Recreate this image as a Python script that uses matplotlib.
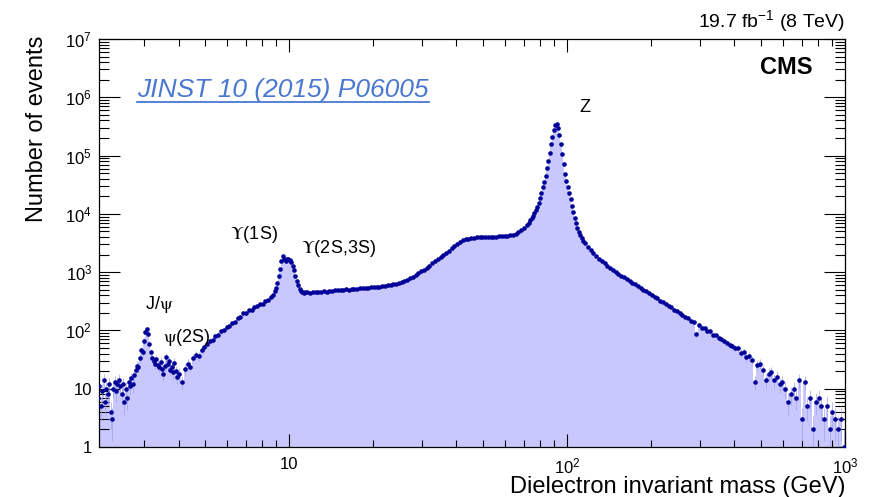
import numpy as np
import matplotlib
matplotlib.use('Agg')
import matplotlib.pyplot as plt
from matplotlib.ticker import FixedLocator, LogLocator, NullFormatter, FuncFormatter
from matplotlib.lines import Line2D

plt.rcParams['font.family'] = ['Liberation Sans', 'DejaVu Sans']
plt.rcParams['mathtext.fontset'] = 'custom'
plt.rcParams['mathtext.rm'] = 'Liberation Sans'
plt.rcParams['mathtext.it'] = 'Liberation Sans:italic'
plt.rcParams['mathtext.bf'] = 'Liberation Sans:bold'

# Bin edges in units of 0.005 in log10(m / GeV): (first, stop, stride).
# Finer binning across the J/psi, Upsilon and Z resonances.
edge_blocks = [(62, 120, 1), (120, 188, 2), (188, 212, 1),
               (212, 372, 2), (372, 412, 1), (412, 601, 2)]

# Event counts per bin, block by block
counts_jpsi = [7, 11, 5, 9, 14, 6, 10, 8, 12, 4,
               3, 10, 13, 9, 12, 14, 11, 8, 12, 6,
               10, 7, 13, 11, 15, 12, 17, 21, 25, 24,
               33, 46, 42, 65, 95, 105, 88, 58, 42, 33,
               30, 27, 32, 26, 24, 29, 22, 18, 25, 35,
               27, 30, 21, 24, 19, 28, 20, 16]
counts_rise = [18, 13, 22, 27, 24, 33, 38, 36, 47, 52,
               58, 66, 68, 79, 84, 97, 101, 114, 119, 134,
               142, 163, 168, 196, 200, 225, 226, 250, 258, 283,
               288, 315, 330, 370]
counts_upsilon = [410, 470, 540, 660, 850, 1150, 1550, 1900, 1700, 1580,
                  1660, 1700, 1600, 1480, 1300, 1080, 870, 700, 590, 520,
                  480, 460, 445, 450]
counts_plateau = [450, 445, 452, 448, 460, 455, 470, 465, 478, 480,
                  490, 485, 495, 500, 505, 498, 510, 515, 508, 525,
                  530, 535, 545, 550, 555, 560, 565, 575, 580, 590,
                  600, 615, 630, 650, 670, 700, 740, 790, 840, 900,
                  960, 1030, 1110, 1200, 1300, 1410, 1530, 1660, 1800, 1960,
                  2140, 2340, 2560, 2800, 3050, 3300, 3500, 3650, 3760, 3840,
                  3900, 3940, 3980, 4000, 4020, 4040, 4030, 4060, 4080, 4100,
                  4120, 4150, 4200, 4280, 4400, 4600, 4900, 5300, 5800, 6400]
counts_z = [6900, 7760, 8500, 9300, 10200, 11500, 12900, 15500, 18600, 22900,
            28800, 35500, 44700, 60300, 81300, 112000, 155000, 209000, 275000, 331000,
            347000, 295000, 229000, 158000, 105000, 70800, 49000, 36300, 28800, 22900,
            17800, 13800, 10700, 8510, 6920, 5750, 4900, 4370, 3800, 3390]
counts_tail = [3160, 2750, 2400, 2140, 1900, 1700, 1550, 1410, 1290, 1175,
               1100, 1000, 933, 870, 813, 758, 708, 660, 617, 575,
               537, 500, 468, 437, 410, 378, 356, 322, 308, 288,
               258, 248, 225, 216, 198, 186, 170, 163, 148, 140,
               88, 124, 112, 108, 97, 96, 84, 83, 74, 72,
               66, 62, 57, 54, 49, 50, 41, 42, 35, 36,
               31, 13, 26, 27, 21, 14, 18, 19, 14, 16,
               12, 13, 10, 6, 8, 10, 7, 14, 3, 13,
               5, 7, 2, 6, 7, 5, 3, 5, 2, 4,
               3, 2, 3, 1]

y_tick_labels = ['1', '10', '$10^{2}$', '$10^{3}$', '$10^{4}$', '$10^{5}$', '$10^{6}$', '$10^{7}$']
x_tick_labels = ['10', '$10^{2}$', '$10^{3}$']

edge_idx = np.concatenate([np.arange(a, b, s) for a, b, s in edge_blocks])
edges = 10.0 ** (edge_idx / 200.0)
counts = np.array(counts_jpsi + counts_rise + counts_upsilon
                  + counts_plateau + counts_z + counts_tail, dtype=float)
assert len(counts) == len(edges) - 1
centers = np.sqrt(edges[:-1] * edges[1:])

err = np.sqrt(counts)
err_lo = np.minimum(err, counts - 0.3)

fig = plt.figure(figsize=(8.75, 4.97), dpi=100)
ax = fig.add_axes([99 / 875, 50 / 497, 746 / 875, 408 / 497])

ax.stairs(counts, edges, baseline=0.1, fill=True, color='#c8c8ff', lw=0, zorder=1)
ax.errorbar(centers, counts, yerr=[err_lo, err], fmt='none',
            ecolor='#a0a0ec', elinewidth=0.5, zorder=2)
ax.plot(centers, counts, 'o', ms=3.3, color='#000099', mec='none', zorder=3)

ax.set_xscale('log')
ax.set_yscale('log')
ax.set_xlim(2.07, 1000)
ax.set_ylim(1, 1e7)

ax.xaxis.set_major_locator(FixedLocator([10, 100, 1000]))
ax.xaxis.set_major_formatter(FuncFormatter(lambda v, p: x_tick_labels[int(round(np.log10(v))) - 1]))
ax.xaxis.set_minor_locator(LogLocator(base=10, subs=np.arange(2, 10), numticks=20))
ax.xaxis.set_minor_formatter(NullFormatter())
ax.yaxis.set_major_locator(FixedLocator([10.0 ** k for k in range(8)]))
ax.yaxis.set_major_formatter(FuncFormatter(lambda v, p: y_tick_labels[int(round(np.log10(v)))]))
ax.yaxis.set_minor_locator(LogLocator(base=10, subs=np.arange(2, 10), numticks=20))
ax.yaxis.set_minor_formatter(NullFormatter())

ax.tick_params(which='both', direction='in', top=True, right=True, width=0.8,
               labelsize=12, colors='black')
ax.tick_params(axis='y', which='major', length=15, pad=5)
ax.tick_params(axis='y', which='minor', length=7.5)
ax.tick_params(axis='x', which='major', length=9.5, pad=7)
ax.tick_params(axis='x', which='minor', length=4.8)
for s in ax.spines.values():
    s.set_linewidth(0.9)

# Resonance labels
ax.text(116, 6.8e5, 'Z', fontsize=13, ha='center', va='center')
ax.text(3.40, 283, r'J/$\mathrm{\psi}$', fontsize=13, ha='center', va='center',
        math_fontfamily='stix')
ax.text(4.28, 75, r'$\mathrm{\psi}$(2S)', fontsize=13, ha='center', va='center',
        math_fontfamily='stix')
ax.text(7.45, 4420, r'$\Upsilon$(1S)', fontsize=13, ha='center', va='center',
        math_fontfamily='stix')
ax.text(15.1, 2590, r'$\Upsilon$(2S,3S)', fontsize=13, ha='center', va='center',
        math_fontfamily='stix')

ax.text(0.956, 0.931, 'CMS', transform=ax.transAxes, fontsize=17, fontweight='bold',
        ha='right', va='center')
ref = ax.text(0.051, 0.875, 'JINST 10 (2015) P06005', transform=ax.transAxes,
              fontsize=19, style='italic', color='#4a78d0', ha='left', va='center')

fig.text(845 / 875, 1 - 27 / 497, r'19.7 fb$^{-1}$ (8 TeV)', fontsize=14,
         ha='right', va='baseline')
fig.text(37 / 875, 1 - 36 / 497, 'Number of events', fontsize=17, rotation=90,
         ha='center', va='top')
fig.text(845 / 875, 1 - 487 / 497, 'Dielectron invariant mass (GeV)', fontsize=17,
         ha='right', va='center')

# Underline the reference text
fig.canvas.draw()
bb = ref.get_window_extent(fig.canvas.get_renderer()).transformed(fig.transFigure.inverted())
uy = bb.y0 + 0.1 * (bb.y1 - bb.y0) - 2.0 / 497
fig.add_artist(Line2D([bb.x0, bb.x1], [uy, uy], transform=fig.transFigure,
                      color='#4a78d0', lw=1.3))

fig.savefig('out.png', dpi=100)
